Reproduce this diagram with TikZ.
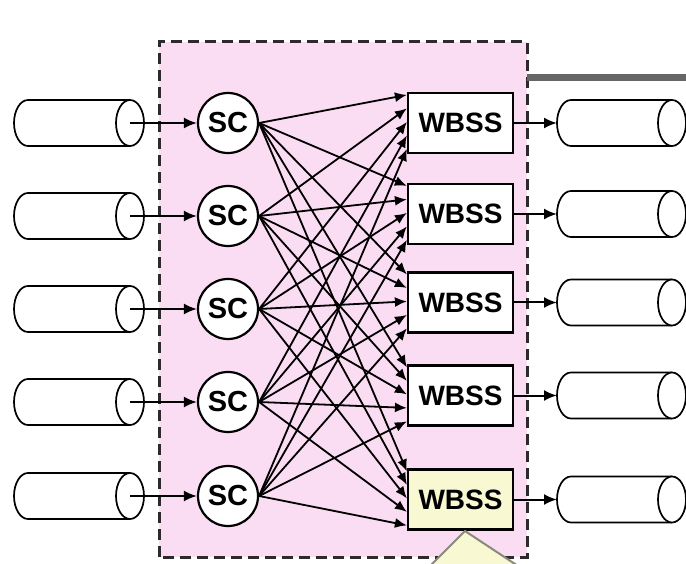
\documentclass[tikz,border=0pt]{standalone}
\usepackage{fontspec}
\setmainfont{Liberation Sans}
\usetikzlibrary{arrows.meta}
\definecolor{pinkbg}{HTML}{FADCF3}
\definecolor{lyellow}{HTML}{F8F8D2}
\definecolor{bordergray}{HTML}{2E2A2C}
\definecolor{bargray}{HTML}{666666}
\definecolor{trigray}{HTML}{8A8A7A}
\tikzset{
  cyl/.style={draw=black, line width=1.7pt, fill=white},
  scnode/.style={circle, draw=black, line width=2.2pt, fill=white, minimum size=60pt, inner sep=0pt, font=\fontsize{29}{30}\selectfont\bfseries},
  wbss/.style={rectangle, draw=black, line width=2.2pt, fill=white, minimum width=105pt, minimum height=60pt, inner sep=0pt, font=\fontsize{28}{30}\selectfont\bfseries},
  arr/.style={draw=black, line width=2pt, -{Latex[length=13pt,width=11pt]}},
  marr/.style={draw=black, line width=1.8pt, -{Latex[length=12pt,width=10pt]}}
}
\begin{document}
\begin{tikzpicture}[x=1pt,y=1pt]
\useasboundingbox (0,0) rectangle (686,-564);
\begin{scope}
\clip (0,0) rectangle (686,-564);
% pink dashed region
\fill[pinkbg] (159,-42) rectangle (527,-557);
\draw[bordergray, line width=3pt, dash pattern=on 11pt off 6pt] (159,-557) -- (159,-42) -- (527,-42) -- (527,-557) -- cycle;
% gray bar
\draw[bargray, line width=7pt] (527,-78) -- (686,-78);

% left cylinders
\foreach \k/\yc in {1/-123, 2/-216, 3/-309, 4/-402, 5/-496} {
  \filldraw[cyl] (130,\yc+23) -- (28,\yc+23) arc[start angle=90, end angle=270, x radius=14, y radius=23] -- (130,\yc-23);
  \filldraw[cyl] (130,\yc) ellipse[x radius=14, y radius=23];
  \coordinate (L\k) at (130,\yc);
}
% right cylinders
\foreach \k/\yc in {1/-123, 2/-214, 3/-302.5, 4/-395.5, 5/-499.5} {
  \filldraw[cyl] (672,\yc+23) -- (571,\yc+23) arc[start angle=90, end angle=270, x radius=14, y radius=23] -- (672,\yc-23);
  \filldraw[cyl] (672,\yc) ellipse[x radius=14, y radius=23];
  \coordinate (R\k) at (557,\yc);
}

% SC nodes
\foreach \k/\yc in {1/-123, 2/-216, 3/-309, 4/-402, 5/-496} {
  \node[scnode] (S\k) at (228,\yc) {SC};
}
% WBSS nodes
\node[wbss] (W1) at (460.5,-123) {WBSS};
\node[wbss] (W2) at (460.5,-214) {WBSS};
\node[wbss] (W3) at (460.5,-302.5) {WBSS};
\node[wbss] (W4) at (460.5,-395.5) {WBSS};
\node[wbss, fill=lyellow] (W5) at (460.5,-499.5) {WBSS};

% inputs / outputs
\foreach \k in {1,...,5} {
  \draw[arr] (L\k) -- (S\k.west);
  \draw[arr] (W\k.east) -- (R\k);
}
% full mesh
\foreach \j in {1,...,5} {
  \foreach \i in {1,...,5} {
    \pgfmathsetmacro{\off}{3+(\j-1)*13.5}
    \draw[marr] (S\j.east) -- ([yshift=-\off pt]W\i.north west);
  }
}
% triangle
\filldraw[fill=lyellow, draw=trigray, line width=2pt] (430,-566) -- (465,-531) -- (518,-566);
\end{scope}
\end{tikzpicture}
\end{document}
